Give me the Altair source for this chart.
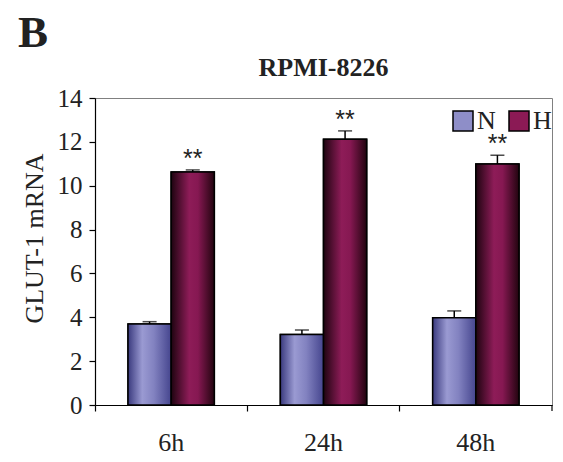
import altair as alt
import pandas as pd

categories = ["6h", "24h", "48h"]
series = ["N", "H"]
n_vals = [3.69, 3.22, 3.98]
n_err = [0.11, 0.20, 0.31]
h_vals = [10.63, 12.12, 10.99]
h_err = [0.09, 0.38, 0.40]
h_sig = ["**", "**", "**"]
y_ticks = [0, 2, 4, 6, 8, 10, 12, 14]

rows = []
for i, c in enumerate(categories):
    rows.append({"time": c, "series": "N", "value": n_vals[i], "upper": n_vals[i] + n_err[i], "sig": ""})
    rows.append({"time": c, "series": "H", "value": h_vals[i], "upper": h_vals[i] + h_err[i], "sig": h_sig[i]})
df = pd.DataFrame(rows)

W, H = 457, 307
SERIF = "Liberation Serif"

grad_n = alt.LinearGradient(
    gradient="linear", x1=0, x2=1, y1=0, y2=0,
    stops=[alt.GradientStop(color="#3a3a7e", offset=0),
           alt.GradientStop(color="#9a9ad2", offset=0.33),
           alt.GradientStop(color="#8282c0", offset=0.6),
           alt.GradientStop(color="#45458e", offset=1)])
grad_h = alt.LinearGradient(
    gradient="linear", x1=0, x2=1, y1=0, y2=0,
    stops=[alt.GradientStop(color="#1e0410", offset=0),
           alt.GradientStop(color="#8e1c58", offset=0.42),
           alt.GradientStop(color="#861852", offset=0.62),
           alt.GradientStop(color="#22040f", offset=1)])

x_enc = alt.X("time:N", sort=categories,
              scale=alt.Scale(paddingInner=0, paddingOuter=0),
              axis=alt.Axis(title=None, bandPosition=0, labelAngle=0, labelFont=SERIF,
                            labelFontSize=26, labelColor="#222", labelBaseline="alphabetic",
                            labelPadding=39, tickSize=6, tickColor="black", domainColor="black",
                            domainWidth=1.2, tickWidth=1.2))
xo_enc = alt.XOffset("series:N", sort=series,
                     scale=alt.Scale(paddingInner=0, paddingOuter=0.765))
y_scale = alt.Scale(domain=[0, 14], nice=False)
y_axis = alt.Axis(title="GLUT-1 mRNA", values=y_ticks, grid=False, labelFont=SERIF,
                  labelFontSize=25, labelColor="#222", labelPadding=7, tickSize=6,
                  tickColor="black", domainColor="black", domainWidth=1.2, tickWidth=1.2,
                  titleFont=SERIF, titleFontSize=26, titleFontWeight="normal",
                  titleColor="#222", titleX=-53, titleY=140, titleBaseline="alphabetic",
                  titleAlign="center", titleAngle=270)

base = alt.Chart(df)

legend_bars = base.mark_bar(stroke="black", strokeWidth=1.5).encode(
    x=x_enc, xOffset=xo_enc,
    y=alt.Y("value:Q", scale=y_scale, axis=y_axis),
    color=alt.Color("series:N", sort=series,
                    scale=alt.Scale(domain=series, range=["#8e8ec8", "#8b1a55"]),
                    legend=alt.Legend(title=None, orient="none", legendX=355, legendY=10,
                                      direction="horizontal", symbolType="square",
                                      symbolSize=400, symbolStrokeColor="black",
                                      symbolStrokeWidth=1.5, labelFont=SERIF,
                                      labelFontSize=26, labelColor="#222", labelOffset=1,
                                      columnPadding=10, padding=0)),
)

grad_bars = base.mark_bar(stroke="black", strokeWidth=1.5).encode(
    x=x_enc, xOffset=xo_enc,
    y=alt.Y("value:Q", scale=y_scale),
    fill=alt.condition("datum.series == 'N'", alt.value(grad_n), alt.value(grad_h)),
)

stems = base.mark_rule(color="black", strokeWidth=1.5).encode(
    x=x_enc, xOffset=xo_enc,
    y=alt.Y("value:Q", scale=y_scale), y2="upper:Q",
)
caps = base.mark_tick(color="black", thickness=1.5, size=14, orient="horizontal").encode(
    x=x_enc, xOffset=xo_enc,
    y=alt.Y("upper:Q", scale=y_scale),
)
stars = base.mark_text(font="Liberation Sans", fontSize=25, color="#222",
                       baseline="alphabetic", dy=-3).encode(
    x=x_enc, xOffset=xo_enc,
    y=alt.Y("upper:Q", scale=y_scale),
    text="sig:N",
)

end_tick = alt.Chart(pd.DataFrame({"k": [0]})).mark_rule(color="black", strokeWidth=1.2).encode(
    x=alt.value(W), y=alt.value(H), y2=alt.value(H + 6))

panel_letter = alt.Chart(pd.DataFrame({"label": ["B"]})).mark_text(
    font=SERIF, fontSize=45, fontWeight="bold", color="#222", align="left",
    baseline="alphabetic").encode(text="label:N", x=alt.value(-77), y=alt.value(-51))

title_txt = alt.Chart(pd.DataFrame({"label": ["RPMI-8226"]})).mark_text(
    font=SERIF, fontSize=26, fontWeight="bold", color="#222", align="center",
    baseline="alphabetic").encode(text="label:N", x=alt.value(W / 2), y=alt.value(-22))

chart = alt.layer(legend_bars, grad_bars, stems, caps, stars, end_tick, panel_letter, title_txt).properties(
    width=W, height=H,
    autosize=alt.AutoSizeParams(type="none"),
    padding={"left": 87, "top": 90, "right": 3, "bottom": 56},
).configure_view(stroke="#808080", strokeWidth=1)

chart.save("out.html", embed_options={"renderer": "svg", "actions": False})
